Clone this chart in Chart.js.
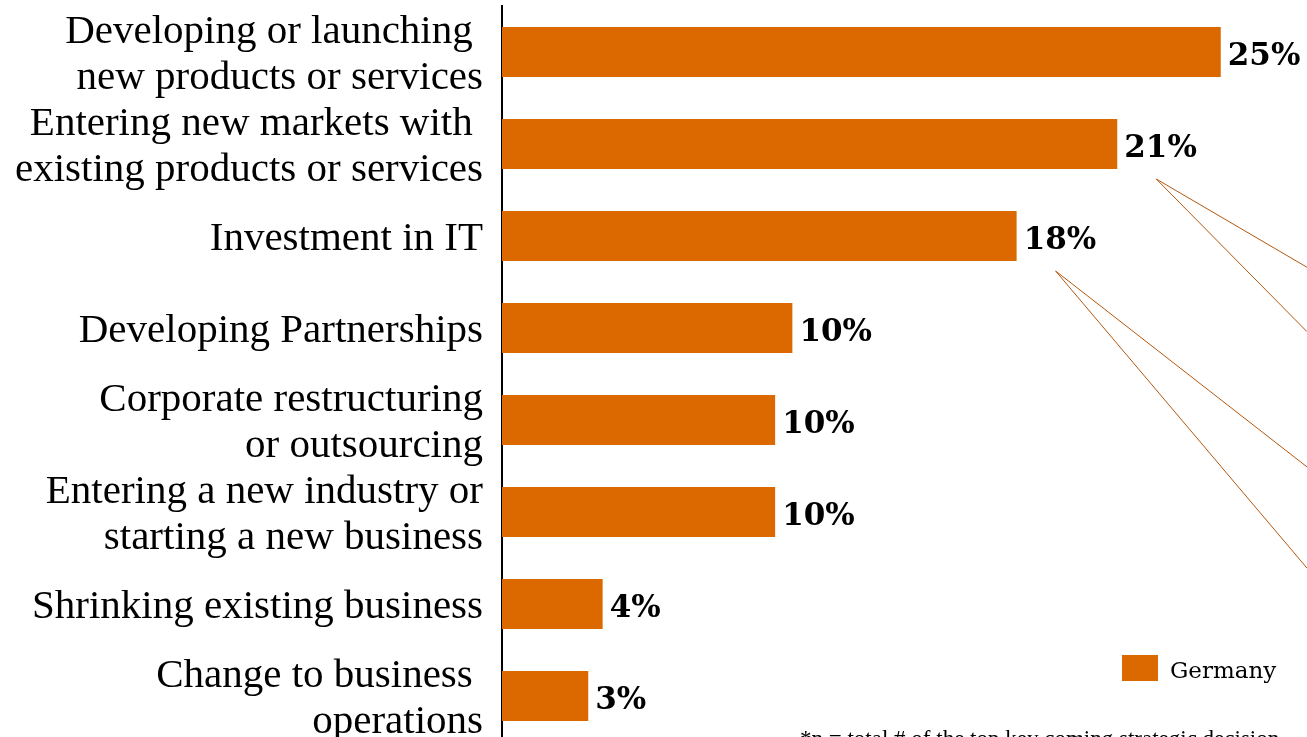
<!DOCTYPE html>
<html>
<head>
<meta charset="utf-8">
<script src="https://cdn.jsdelivr.net/npm/chart.js@4/dist/chart.umd.min.js"></script>
<style>
  html, body { margin: 0; padding: 0; background: #fff; overflow: hidden; }
  #wrap { position: relative; width: 1307px; height: 760px; }
</style>
</head>
<body>
<div id="wrap"><canvas id="chart"></canvas></div>
<script>
// Top coming strategic decisions (share of respondents, %)
const categories = [
  ['Developing or launching ', 'new products or services'],
  ['Entering new markets with ', 'existing products or services'],
  'Investment in IT',
  'Developing Partnerships',
  ['Corporate restructuring', 'or outsourcing'],
  ['Entering a new industry or', 'starting a new business'],
  'Shrinking existing business',
  ['Change to business ', 'operations']
];
const germany = [25.0, 21.4, 17.9, 10.1, 9.5, 9.5, 3.5, 3.0];
const seriesName = 'Germany';
const footnote = '*n = total # of the top key coming strategic decision';

// Connector lines leaving two bars towards the right edge (target rows as fractional category positions)
const connectors = [
  { from: 1, to: [2.34, 3.04] },
  { from: 2, to: [4.51, 5.61] }
];

const BAR = '#DC6900';
const LINE = '#B4580F';

const valueLabels = {
  id: 'valueLabels',
  afterDatasetsDraw(chart) {
    const ctx = chart.ctx;
    const meta = chart.getDatasetMeta(0);
    ctx.save();
    ctx.font = 'bold 31px "DejaVu Serif"';
    ctx.fillStyle = '#000';
    ctx.textAlign = 'left';
    ctx.textBaseline = 'middle';
    meta.data.forEach((bar, i) => {
      const v = chart.data.datasets[0].data[i];
      ctx.fillText(Math.round(v) + '%', bar.x + 7, bar.y + 5);
    });
    ctx.restore();
  }
};

const connectorLines = {
  id: 'connectorLines',
  afterDatasetsDraw(chart) {
    const ctx = chart.ctx;
    const xs = chart.scales.x, ys = chart.scales.y;
    const data = chart.data.datasets[0].data;
    ctx.save();
    ctx.strokeStyle = LINE;
    ctx.lineWidth = 1;
    connectors.forEach(c => {
      const x0 = xs.getPixelForValue(data[c.from]) + 39;
      const y0 = ys.getPixelForValue(c.from) + 35;
      c.to.forEach(t => {
        ctx.beginPath();
        ctx.moveTo(x0, y0);
        ctx.lineTo(chart.chartArea.right, ys.getPixelForValue(t));
        ctx.stroke();
      });
    });
    ctx.restore();
  }
};

const legendAndNote = {
  id: 'legendAndNote',
  afterDraw(chart) {
    const ctx = chart.ctx;
    const area = chart.chartArea;
    const ds = chart.data.datasets[0];
    ctx.save();
    // legend swatch + label
    const bx = area.right - 185, by = area.bottom - 87;
    ctx.fillStyle = ds.backgroundColor;
    ctx.fillRect(bx, by, 36, 26);
    ctx.fillStyle = '#000';
    ctx.font = '23px "DejaVu Serif"';
    ctx.textAlign = 'left';
    ctx.textBaseline = 'middle';
    ctx.fillText(ds.label, bx + 48, by + 17);
    // footnote
    ctx.font = '23px "Liberation Serif"';
    ctx.textBaseline = 'alphabetic';
    ctx.fillText(footnote, area.right - 507, area.bottom + 4);
    ctx.restore();
  }
};

new Chart(document.getElementById('chart'), {
  type: 'bar',
  data: {
    labels: categories,
    datasets: [{
      label: seriesName,
      data: germany,
      backgroundColor: BAR,
      borderWidth: 0,
      categoryPercentage: 1,
      barPercentage: 0.5435
    }]
  },
  options: {
    indexAxis: 'y',
    responsive: true,
    maintainAspectRatio: false,
    animation: false,
    layout: { padding: { top: 6, right: 0, bottom: 18, left: 0 } },
    plugins: {
      legend: { display: false },
      tooltip: { enabled: false }
    },
    scales: {
      x: {
        display: false,
        min: 0,
        max: 28
      },
      y: {
        afterFit(scale) {
          scale.width = 502;
          scale.paddingTop = 0;
          scale.paddingBottom = 0;
        },
        grid: { display: false, drawTicks: false },
        border: { display: true, color: '#000', width: 2 },
        ticks: {
          autoSkip: false,
          padding: 19,
          labelOffset: 3,
          color: '#000',
          font: { family: '"Liberation Serif"', size: 41, lineHeight: 1.12 }
        }
      }
    }
  },
  plugins: [connectorLines, valueLabels, legendAndNote]
});
</script>
</body>
</html>
